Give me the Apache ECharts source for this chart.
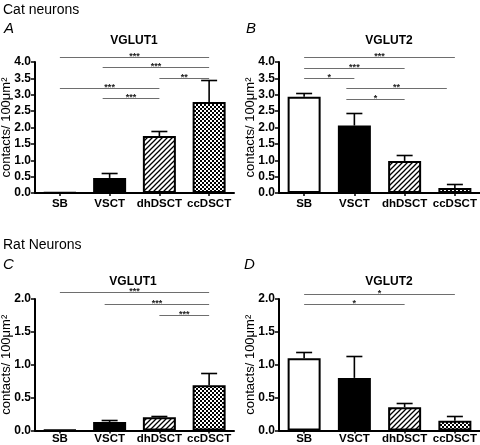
<!DOCTYPE html>
<html><head><meta charset="utf-8">
<script src="https://cdn.jsdelivr.net/npm/echarts@6/dist/echarts.min.js"></script>
<style>html,body{margin:0;padding:0;background:#fff}#c{width:480px;height:445px}</style>
</head><body><div id="c"></div>
<script>
const categories = ['SB', 'VSCT', 'dhDSCT', 'ccDSCT'];
// Cat neurons
const meanA = [0.02, 0.46, 1.74, 2.78];
const semA  = [0, 0.15, 0.15, 0.66];
const meanB = [2.94, 2.06, 0.98, 0.15];
const semB  = [0.11, 0.38, 0.17, 0.12];
// Rat neurons
const meanC = [0.01, 0.13, 0.20, 0.69];
const semC  = [0, 0.03, 0.02, 0.19];
const meanD = [1.10, 0.80, 0.355, 0.15];
const semD  = [0.10, 0.33, 0.07, 0.065];
// significance bars: [from, to, level, label]
const sigA = [[0, 3, 4.16, '***'], [0.86, 3, 3.84, '***'], [2, 3, 3.51, '**'], [0, 2, 3.20, '***'], [0.86, 2, 2.89, '***']];
const sigB = [[0, 3, 4.15, '***'], [0, 2, 3.83, '***'], [0, 1, 3.51, '*'], [0.84, 2.84, 3.20, '**'], [0.84, 2, 2.87, '*']];
const sigC = [[0, 3, 2.10, '***'], [0.9, 3, 1.92, '***'], [2, 3, 1.76, '***']];
const sigD = [[0, 3, 2.08, '*'], [0, 2, 1.92, '*']];
const yMaxCat = 4.0, yMaxRat = 2.0, yStep = 0.5;
const panelTitles = ['VGLUT1', 'VGLUT2', 'VGLUT1', 'VGLUT2'];
const panelLetters = ['A', 'B', 'C', 'D'];
const groupTitles = ['Cat neurons', 'Rat Neurons'];
const yName = 'contacts/ 100\u03bcm\u00b2';

const FF = '"Liberation Sans", Arial, Helvetica, sans-serif';

function hatchCanvas() {
  const s = 5, c = document.createElement('canvas');
  c.width = c.height = s;
  const g = c.getContext('2d');
  g.fillStyle = '#fff'; g.fillRect(0, 0, s, s);
  g.strokeStyle = '#000'; g.lineWidth = 1.3;
  g.beginPath();
  g.moveTo(0, s); g.lineTo(s, 0);
  g.moveTo(-1, 1); g.lineTo(1, -1);
  g.moveTo(s - 1, s + 1); g.lineTo(s + 1, s - 1);
  g.stroke();
  return c;
}
function checkCanvas() {
  const c = document.createElement('canvas');
  c.width = c.height = 4;
  const g = c.getContext('2d');
  g.fillStyle = '#fff'; g.fillRect(0, 0, 4, 4);
  g.fillStyle = '#000';
  g.fillRect(0, 0, 2, 2); g.fillRect(2, 2, 2, 2);
  return c;
}
const fills = ['#ffffff', '#000000', {image: hatchCanvas(), repeat: 'repeat'}, {image: checkCanvas(), repeat: 'repeat'}];

const panels = [
  {mean: meanA, sem: semA, sig: sigA, max: yMaxCat, lm: 5, grid: {left: 35, top: 62, width: 199, height: 131}},
  {mean: meanB, sem: semB, sig: sigB, max: yMaxCat, lm: 5, grid: {left: 279, top: 62, width: 201, height: 131}},
  {mean: meanC, sem: semC, sig: sigC, max: yMaxRat, lm: 2, grid: {left: 35, top: 299, width: 199, height: 131.5}},
  {mean: meanD, sem: semD, sig: sigD, max: yMaxRat, lm: 2, grid: {left: 279, top: 299, width: 201, height: 131.5}}
];

function errRender(params, api) {
  const x = api.value(0), m = api.value(1), s = api.value(2);
  if (!(s > 0)) return null;
  const p1 = api.coord([x, m]), p2 = api.coord([x, m + s]);
  const half = 8;
  const yt = Math.round(p2[1]) + 0.5;
  return {type: 'group', children: [
    {type: 'line', shape: {x1: p1[0], y1: p1[1], x2: p2[0], y2: yt}, style: {stroke: '#000', lineWidth: 1.6}},
    {type: 'line', shape: {x1: p2[0] - half, y1: yt, x2: p2[0] + half, y2: yt}, style: {stroke: '#000', lineWidth: 1.6}}
  ]};
}
function sigRenderer(list) {
  return function (params, api) {
    const d = list[params.dataIndex];
    const bw = api.size([1, 0])[0];
    const px = pos => { const i = Math.round(pos); return api.coord([i, d[2]])[0] + (pos - i) * bw; };
    const y = Math.round(api.coord([0, d[2]])[1]) + 0.5;
    const x1 = px(d[0]), x2 = px(d[1]);
    return {type: 'group', children: [
      {type: 'line', shape: {x1: x1, y1: y, x2: x2, y2: y}, style: {stroke: '#6e6e6e', lineWidth: 1}},
      {type: 'text', style: {text: d[3], x: (x1 + x2) / 2, y: y - 1, align: 'center', verticalAlign: 'middle',
        font: 'bold 9px ' + FF, fill: '#222'}}
    ]};
  };
}

const grids = [], xAxes = [], yAxes = [], series = [];
panels.forEach((p, k) => {
  grids.push(Object.assign({outerBoundsMode: 'none', containLabel: false}, p.grid));
  xAxes.push({
    gridIndex: k, type: 'category', data: categories,
    axisLine: {show: true, lineStyle: {color: '#000', width: 2}},
    axisTick: {show: true, alignWithLabel: true, length: 3, lineStyle: {color: '#000', width: 1.5}},
    axisLabel: {color: '#000', fontWeight: 'bold', fontSize: 11.5, fontFamily: FF, margin: p.lm, interval: 0},
    splitLine: {show: false}
  });
  yAxes.push({
    gridIndex: k, type: 'value', min: 0, max: p.max, interval: yStep,
    name: yName, nameLocation: 'middle', nameGap: 22, nameMoveOverlap: false,
    nameTextStyle: {fontSize: 13, color: '#000', fontFamily: FF},
    axisLine: {show: true, lineStyle: {color: '#000', width: 2}},
    axisTick: {show: true, length: 4, lineStyle: {color: '#000', width: 1.5}},
    axisLabel: {formatter: v => v.toFixed(1), fontWeight: 'bold', fontSize: 12, color: '#000', fontFamily: FF, margin: 4},
    splitLine: {show: false}
  });
  series.push({
    type: 'bar', xAxisIndex: k, yAxisIndex: k, barWidth: 33, z: 2,
    data: p.mean.map((v, i) => ({value: v, itemStyle: {color: fills[i], borderColor: '#000', borderWidth: 2}})),
    emphasis: {disabled: true}, animation: false
  });
  series.push({
    type: 'custom', xAxisIndex: k, yAxisIndex: k, z: 3, renderItem: errRender,
    encode: {x: 0, y: 1},
    data: p.mean.map((v, i) => [i, v, p.sem[i]]), animation: false, clip: false
  });
  series.push({
    type: 'custom', xAxisIndex: k, yAxisIndex: k, z: 4, renderItem: sigRenderer(p.sig),
    encode: {x: 0, y: 1},
    data: p.sig.map(d => [Math.round(d[0]), Math.min(d[2], p.max)]), animation: false, clip: false
  });
});

const txt = (text, x, y, font, align) => ({type: 'text', x: x, y: y, silent: true,
  style: {text: text, font: font, fill: '#000', align: align || 'left', verticalAlign: 'middle',
    textAlign: align || 'left', textVerticalAlign: 'middle'}});
const graphics = [
  txt(groupTitles[0], 3, 10, '14px ' + FF),
  txt(groupTitles[1], 3, 245.5, '14px ' + FF),
  txt(panelLetters[0], 4, 29, 'italic 15px ' + FF),
  txt(panelLetters[1], 246, 29, 'italic 15px ' + FF),
  txt(panelLetters[2], 3, 265, 'italic 15px ' + FF),
  txt(panelLetters[3], 244, 264.5, 'italic 15px ' + FF),
  txt(panelTitles[0], 134, 41, 'bold 12px ' + FF, 'center'),
  txt(panelTitles[1], 389, 41, 'bold 12px ' + FF, 'center'),
  txt(panelTitles[2], 133, 282, 'bold 12px ' + FF, 'center'),
  txt(panelTitles[3], 389, 282, 'bold 12px ' + FF, 'center')
];

const chart = echarts.init(document.getElementById('c'), null, {renderer: 'canvas'});
chart.setOption({
  animation: false,
  backgroundColor: '#fff',
  textStyle: {fontFamily: FF},
  grid: grids, xAxis: xAxes, yAxis: yAxes, series: series,
  graphic: graphics
});
</script></body></html>
